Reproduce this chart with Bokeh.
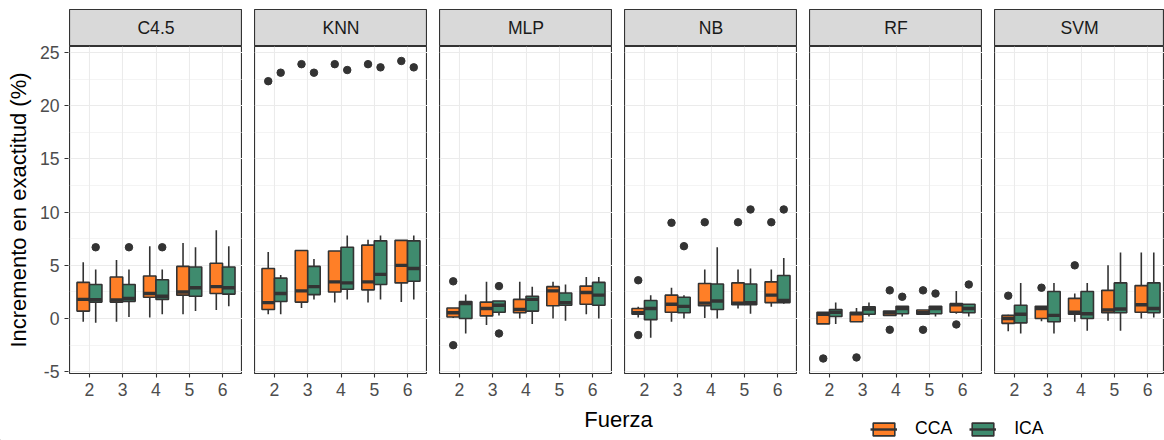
from bokeh.plotting import figure
from bokeh.layouts import column, row
from bokeh.models import (Range1d, FixedTicker, Grid, Legend, LegendItem,
                          ColumnDataSource)
from bokeh.transform import dodge
from bokeh.core.properties import value
from bokeh.embed import file_html
from bokeh.resources import INLINE

# ---------------------------------------------------------------- data
classifiers = ["C4.5", "KNN", "MLP", "NB", "RF", "SVM"]
fuerza = [2, 3, 4, 5, 6]
methods = ["CCA", "ICA"]
y_ticks = [-5, 0, 5, 10, 15, 20, 25]

# box statistics per strength 2..6: (lower whisker, Q1, median, Q3, upper whisker)
c45_cca = [(-0.3, 0.7, 1.8, 3.4, 5.3), (-0.3, 1.55, 1.75, 3.9, 5.5),
           (0.1, 2.0, 2.35, 4.0, 6.8), (0.4, 2.2, 2.5, 4.9, 7.1),
           (0.8, 2.35, 3.0, 5.2, 8.3)]
c45_ica = [(-0.4, 1.55, 1.78, 3.2, 4.6), (0.15, 1.62, 1.88, 3.2, 4.6),
           (0.4, 1.8, 2.1, 3.65, 4.6), (0.7, 2.1, 2.9, 4.85, 6.7),
           (1.15, 2.3, 2.9, 4.85, 6.8)]
knn_cca = [(0.4, 0.85, 1.5, 4.7, 6.25), (1.0, 1.55, 2.6, 6.4, 6.4),
           (1.5, 2.5, 3.45, 6.35, 6.35), (1.5, 2.7, 3.45, 6.9, 7.4),
           (1.55, 3.35, 5.0, 7.35, 7.35)]
knn_ica = [(0.4, 1.6, 2.35, 3.8, 4.1), (1.8, 2.25, 3.0, 4.9, 5.6),
           (1.8, 2.75, 3.35, 6.7, 7.8), (1.8, 3.2, 4.15, 7.3, 7.8),
           (1.8, 3.5, 4.7, 7.3, 7.8)]
mlp_cca = [(0.05, 0.15, 0.55, 1.0, 1.0), (-0.6, 0.25, 0.95, 1.55, 3.45),
           (0.0, 0.55, 0.85, 1.8, 3.45), (0.0, 1.2, 2.6, 3.0, 3.45),
           (0.4, 1.35, 2.45, 3.05, 3.9)]
mlp_ica = [(-1.4, 0.0, 1.4, 1.6, 2.25), (0.3, 0.6, 1.25, 1.65, 1.65),
           (-0.5, 0.7, 1.8, 2.1, 3.0), (-0.2, 1.25, 1.5, 2.4, 3.2),
           (0.0, 1.25, 2.2, 3.4, 3.9)]
nb_cca = [(0.1, 0.4, 0.55, 0.95, 1.1), (-0.3, 0.6, 1.35, 2.2, 2.9),
          (0.05, 1.2, 1.45, 3.3, 4.6), (0.95, 1.3, 1.45, 3.35, 4.6),
          (1.1, 1.5, 2.2, 3.45, 4.6)]
nb_ica = [(-1.8, -0.1, 0.95, 1.7, 2.2), (0.0, 0.55, 1.15, 2.0, 2.2),
          (0.0, 0.85, 1.65, 3.25, 6.7), (0.45, 1.3, 1.5, 3.25, 4.7),
          (1.4, 1.5, 1.7, 4.05, 5.7)]
rf_cca = [(-0.5, -0.5, 0.4, 0.6, 0.6), (-0.3, -0.3, 0.45, 0.6, 1.0),
          (0.3, 0.3, 0.55, 0.7, 0.7), (0.4, 0.4, 0.55, 0.8, 0.8),
          (0.45, 0.6, 1.3, 1.4, 2.6)]
rf_ica = [(-0.5, 0.2, 0.6, 0.85, 1.5), (0.2, 0.4, 0.9, 1.1, 1.5),
          (0.2, 0.45, 0.95, 1.15, 1.15), (0.2, 0.45, 0.95, 1.15, 1.15),
          (0.2, 0.55, 0.95, 1.35, 1.35)]
svm_cca = [(-1.2, -0.45, 0.0, 0.3, 0.35), (-0.25, 0.0, 0.95, 1.15, 1.15),
           (-0.3, 0.4, 0.6, 1.9, 2.35), (-0.2, 0.55, 0.8, 2.65, 5.0),
           (0.0, 0.6, 1.3, 3.1, 6.2)]
svm_ica = [(-1.4, -0.4, 0.4, 1.25, 3.35), (-1.4, -0.3, 0.3, 2.55, 3.35),
           (-1.15, 0.0, 0.45, 2.55, 3.35), (-1.15, 0.55, 0.9, 3.35, 6.2),
           (0.1, 0.55, 0.95, 3.35, 6.2)]

# outlying points per strength 2..6
c45_cca_out = [[], [], [], [], []]
c45_ica_out = [[6.7], [6.7], [6.7], [], []]
knn_cca_out = [[22.3], [23.9], [23.9], [23.9], [24.2]]
knn_ica_out = [[23.1], [23.1], [23.35], [23.6], [23.6]]
mlp_cca_out = [[3.5, -2.5], [], [], [], []]
mlp_ica_out = [[], [3.05, -1.4], [], [], []]
nb_cca_out = [[3.6, -1.55], [9.0], [9.05], [9.05], [9.05]]
nb_ica_out = [[], [6.8], [], [10.25], [10.25]]
rf_cca_out = [[-3.75], [-3.65], [2.65, -1.05], [2.65, -1.05], [-0.55]]
rf_ica_out = [[], [], [2.05], [2.35], [3.2]]
svm_cca_out = [[2.15], [2.9], [5.0], [], []]
svm_ica_out = [[], [], [], [], []]

panel_stats = [(c45_cca, c45_ica), (knn_cca, knn_ica), (mlp_cca, mlp_ica),
               (nb_cca, nb_ica), (rf_cca, rf_ica), (svm_cca, svm_ica)]
panel_outliers = [(c45_cca_out, c45_ica_out), (knn_cca_out, knn_ica_out),
                  (mlp_cca_out, mlp_ica_out), (nb_cca_out, nb_ica_out),
                  (rf_cca_out, rf_ica_out), (svm_cca_out, svm_ica_out)]

# ---------------------------------------------------------------- style
FONT = "Liberation Sans"
COLORS = {"CCA": "#FF7F27", "ICA": "#3F8B6E"}
EDGE = "#333333"
GRID = "#EBEBEB"
STRIP_FILL = "#D9D9D9"
SMALL = "17.6px"
TITLE = "22px"

PAGE_W = 1164
LEFT = 69            # width of the shared y-axis column
FRAME_W, GAP = 173, 12
FRAME_H = 327
STRIP_TOP, STRIP_H = 9, 37
BOTTOM_AXIS = 31
BOTTOM_H = 440 - (STRIP_TOP + STRIP_H + FRAME_H + BOTTOM_AXIS)

X_LO, X_HI = 1.4, 6.6
Y_LO, Y_HI = -5.16, 25.56
BOX_W = 0.375
OFFSETS = {"CCA": -BOX_W / 2, "ICA": BOX_W / 2}

last_w = PAGE_W - (LEFT + (len(classifiers) - 1) * (FRAME_W + GAP))
frame_widths = [FRAME_W] * (len(classifiers) - 1) + [last_w]

y_minor = [(a + b) / 2 for a, b in zip(y_ticks, y_ticks[1:])]


def style_grid(g):
    g.grid_line_color = GRID
    g.grid_line_width = 1.1
    g.minor_grid_line_color = GRID
    g.minor_grid_line_width = 0.55


def style_axis(ax):
    ax.axis_line_color = None
    ax.major_tick_line_color = EDGE
    ax.major_tick_line_width = 1.1
    ax.major_tick_out = 4
    ax.major_tick_in = 0
    ax.minor_tick_line_color = None
    ax.major_label_text_font = FONT
    ax.major_label_text_font_size = SMALL
    ax.major_label_text_color = "#4D4D4D"
    ax.major_label_standoff = 5


# shared y axis, drawn in its own narrow column so its labels are never clipped
yaxis_fig = figure(width=LEFT, height=STRIP_TOP + STRIP_H + FRAME_H + BOTTOM_AXIS,
                   title=None, x_range=Range1d(0, 1),
                   y_range=Range1d(Y_LO, Y_HI),
                   x_axis_location=None, y_axis_location="left",
                   output_backend="svg", toolbar_location=None,
                   min_border_left=LEFT - 1, min_border_right=0,
                   min_border_top=STRIP_TOP + STRIP_H,
                   min_border_bottom=BOTTOM_AXIS, outline_line_color=None)
yaxis_fig.grid.visible = False
ya = yaxis_fig.yaxis[0]
ya.ticker = FixedTicker(ticks=y_ticks)
style_axis(ya)
ya.major_label_overrides = {y: str(y) for y in y_ticks}
ya.axis_label = "Incremento en exactitud (%)"
ya.axis_label_text_font = FONT
ya.axis_label_text_font_size = TITLE
ya.axis_label_text_font_style = "normal"
ya.axis_label_text_color = "black"
ya.axis_label_standoff = 6


def make_strip(i, name):
    s = figure(width=frame_widths[i], height=STRIP_TOP + STRIP_H, title=None,
               x_range=Range1d(0, 1), y_range=Range1d(0, 1),
               x_axis_location=None, y_axis_location=None,
               output_backend="svg", toolbar_location=None,
               min_border_left=0, min_border_right=0,
               min_border_top=STRIP_TOP, min_border_bottom=0,
               background_fill_color=STRIP_FILL,
               outline_line_color=EDGE, outline_line_width=1.2)
    s.grid.visible = False
    s.text(x=[0.5], y=[0.5], text=[name], text_align="center",
           text_baseline="middle", text_font=value(FONT),
           text_font_size=SMALL, text_color="#1A1A1A")
    return s


def make_panel(i, name, stats, outliers):
    fw = frame_widths[i]
    x_hi = X_LO + fw * (X_HI - X_LO) / FRAME_W
    p = figure(width=fw, height=FRAME_H + BOTTOM_AXIS, title=None,
               x_range=Range1d(X_LO, x_hi), y_range=Range1d(Y_LO, Y_HI),
               y_axis_location=None,
               output_backend="svg", toolbar_location=None,
               min_border_left=0, min_border_right=0,
               min_border_top=0, min_border_bottom=BOTTOM_AXIS,
               background_fill_color="white",
               outline_line_color=EDGE, outline_line_width=1.2)

    xt = FixedTicker(ticks=fuerza)
    yt = FixedTicker(ticks=y_ticks, minor_ticks=y_minor)
    p.xaxis.ticker = xt
    if len(p.ygrid) == 0:
        p.add_layout(Grid(dimension=1, ticker=yt))
    for g in p.xgrid:
        g.ticker = xt
        style_grid(g)
    for g in p.ygrid:
        g.ticker = yt
        style_grid(g)
    style_axis(p.xaxis[0])

    for method, st, outs in zip(methods, stats, outliers):
        off = OFFSETS[method]
        src = ColumnDataSource(dict(
            x=fuerza,
            lo=[s[0] for s in st], q1=[s[1] for s in st],
            med=[s[2] for s in st], q3=[s[3] for s in st],
            hi=[s[4] for s in st]))
        xc = dodge("x", off)
        p.segment(x0=xc, y0="lo", x1=xc, y1="q1", source=src,
                  line_color=EDGE, line_width=1.6)
        p.segment(x0=xc, y0="q3", x1=xc, y1="hi", source=src,
                  line_color=EDGE, line_width=1.6)
        p.vbar(x=xc, width=BOX_W, bottom="q1", top="q3", source=src,
               fill_color=COLORS[method], line_color=EDGE, line_width=1.6)
        p.segment(x0=dodge("x", off - BOX_W / 2), y0="med",
                  x1=dodge("x", off + BOX_W / 2), y1="med", source=src,
                  line_color=EDGE, line_width=3.4)
        ox, oy = [], []
        for f, vals in zip(fuerza, outs):
            for v in vals:
                ox.append(f)
                oy.append(v)
        osrc = ColumnDataSource(dict(x=ox, y=oy))
        p.scatter(x=dodge("x", off), y="y", source=osrc, size=7.5,
                  fill_color=EDGE, line_color=EDGE)
    return p


strips = [make_strip(i, n) for i, n in enumerate(classifiers)]
panels = [make_panel(i, n, panel_stats[i], panel_outliers[i])
          for i, n in enumerate(classifiers)]

# bottom band: x-axis title and the legend
bottom = figure(width=PAGE_W, height=BOTTOM_H, title=None,
                x_range=Range1d(0, PAGE_W), y_range=Range1d(0, BOTTOM_H),
                x_axis_location=None, y_axis_location=None,
                output_backend="svg", toolbar_location=None,
                min_border=0, outline_line_color=None)
bottom.grid.visible = False
bottom.text(x=[618], y=[BOTTOM_H - 15], text=["Fuerza"], text_align="center",
            text_baseline="middle", text_font=value(FONT),
            text_font_size=TITLE, text_color="black")

# legend keys: one off-screen box per method so the legend has glyphs to draw
items = []
for method in methods:
    key = ColumnDataSource(dict(x=[-100], top=[-100], bottom=[-101]))
    r_box = bottom.vbar(x="x", width=1, top="top", bottom="bottom",
                        source=key, fill_color=COLORS[method],
                        line_color=EDGE, line_width=1.6)
    r_med = bottom.segment(x0="x", y0="top", x1="x", y1="top", source=key,
                           line_color=EDGE, line_width=2.4)
    items.append(LegendItem(label=method, renderers=[r_box, r_med]))

legend = Legend(items=items, orientation="horizontal", location=(870, 1),
                glyph_width=27, glyph_height=16, label_standoff=18,
                spacing=17, padding=0, margin=0, border_line_color=None,
                background_fill_alpha=0, label_text_font=FONT,
                label_text_font_size=SMALL, label_text_color="black",
                label_height=16)
bottom.add_layout(legend)

facets = column(row(*strips, spacing=GAP), row(*panels, spacing=GAP),
                spacing=0)
layout = column(row(yaxis_fig, facets, spacing=0), bottom, spacing=0)

open("out.html", "w").write(file_html(layout, INLINE))
